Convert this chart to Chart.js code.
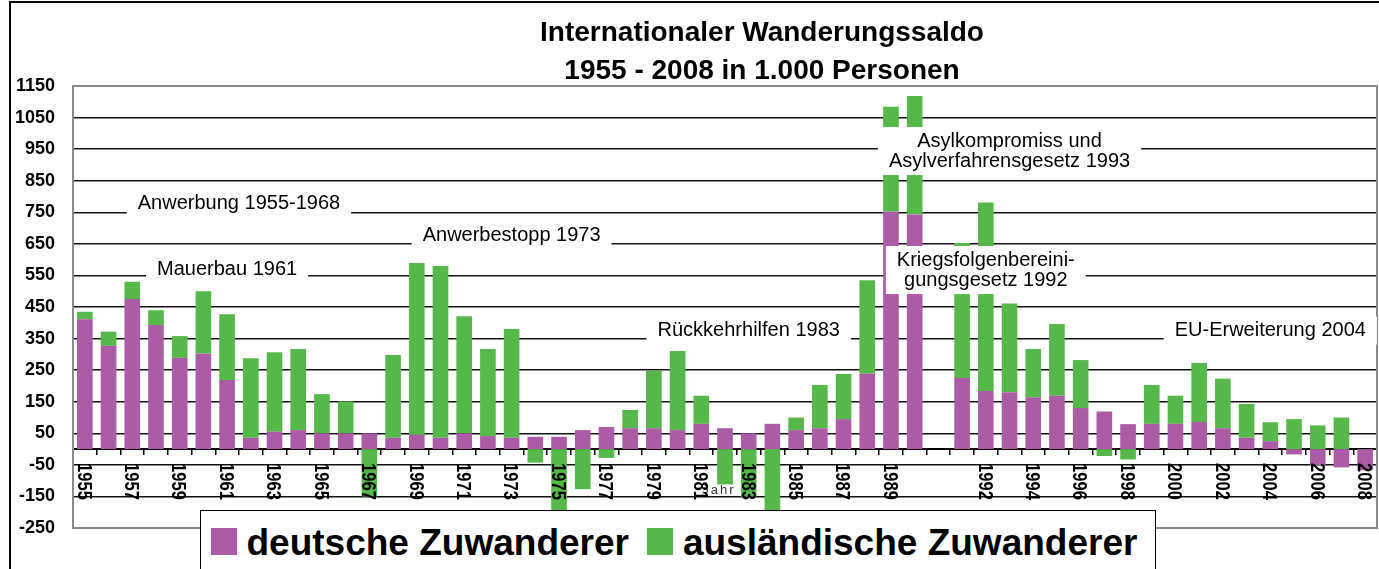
<!DOCTYPE html>
<html>
<head>
<meta charset="utf-8">
<title>Internationaler Wanderungssaldo</title>
<script src="https://cdn.jsdelivr.net/npm/chart.js@4.4.1/dist/chart.umd.min.js"></script>
<style>
  html, body { margin: 0; padding: 0; background: #fff; }
  #wrap { position: relative; width: 1379px; height: 569px; overflow: hidden; }
  #chart { position: absolute; left: 0; top: 0; }
  #legend {
    position: absolute; left: 200px; top: 510px; width: 956px; height: 80px;
    box-sizing: border-box; border: 1.5px solid #000; background: #fff;
    display: flex; align-items: flex-start; padding-left: 9.5px;
    font-family: 'Liberation Sans', Arial, Helvetica, sans-serif;
  }
  #legend .sw { width: 26px; height: 27px; margin-top: 16.5px; margin-right: 10px; flex: none; }
  #legend .lt { font-weight: bold; font-size: 37px; line-height: 37px; margin-top: 13px; white-space: nowrap; }
  #legend .lt.first { margin-right: 18px; }
</style>
</head>
<body>
<div id="wrap">
  <canvas id="chart" width="1379" height="569"></canvas>
  <div id="legend">
    <span class="sw" style="background:#ac5ca5"></span><span class="lt first">deutsche Zuwanderer</span>
    <span class="sw" style="background:#56b84a"></span><span class="lt">ausländische Zuwanderer</span>
  </div>
</div>
<script>
const FONT = "'Liberation Sans', Arial, Helvetica, sans-serif";

// one empty slot between 1990 and 1991, as in the original sheet
const YEARS = [
  '1955', '1956', '1957', '1958', '1959', '1960', '1961', '1962', '1963', '1964',
  '1965', '1966', '1967', '1968', '1969', '1970', '1971', '1972', '1973', '1974',
  '1975', '1976', '1977', '1978', '1979', '1980', '1981', '1982', '1983', '1984',
  '1985', '1986', '1987', '1988', '1989', '1990', '',
  '1991', '1992', '1993', '1994', '1995', '1996', '1997', '1998', '1999', '2000',
  '2001', '2002', '2003', '2004', '2005', '2006', '2007', '2008'
];

// thousands of persons
const DEUTSCHE = [
  411, 327, 475, 393, 289, 303, 219, 36, 55, 60,
  50, 50, 50, 36, 45, 36, 50, 41, 36, 39,
  39, 60, 70, 66, 66, 60, 80, 66, 50, 80,
  60, 66, 95, 239, 752, 743, null,
  225, 184, 180, 164, 169, 130, 119, 79, 80, 80,
  86, 66, 36, 25, -17, -51, -58, -67
];

const AUSLAENDISCHE = [
  24, 45, 55, 47, 69, 197, 208, 252, 252, 257,
  124, 101, -150, 262, 544, 544, 371, 276, 344, -43,
  -200, -127, -28, 58, 182, 251, 89, -112, -151, -215,
  40, 137, 143, 296, 332, 375, null,
  428, 597, 281, 153, 227, 152, -22, -33, 123, 89,
  187, 157, 107, 60, 95, 75, 100, 0
];

const Y_TICKS = [-250, -150, -50, 50, 150, 250, 350, 450, 550, 650, 750, 850, 950, 1050, 1150];

const TITLE_LINES = ['Internationaler Wanderungssaldo', '1955 - 2008 in 1.000 Personen'];

// text boxes, centred on a year (or span of years) and a value
const NOTES = [
  { lines: ['Anwerbung 1955-1968'], from: '1955', to: '1968', value: 779 },
  { lines: ['Mauerbau 1961'], from: '1961', to: '1961', value: 570 },
  { lines: ['Anwerbestopp 1973'], from: '1973', to: '1973', value: 675 },
  { lines: ['Rückkehrhilfen 1983'], from: '1983', to: '1983', value: 377 },
  { lines: ['Asylkompromiss und', 'Asylverfahrensgesetz 1993'], from: '1993', to: '1993', value: 944 },
  { lines: ['Kriegsfolgenbereini-', 'gungsgesetz 1992'], from: '1992', to: '1992', value: 567 },
  { lines: ['EU-Erweiterung 2004'], from: '2004', to: '2004', value: 375 }
];

const decorations = {
  id: 'decorations',
  beforeDraw(chart) {
    const { ctx, width, height } = chart;
    ctx.save();
    ctx.fillStyle = '#fff';
    ctx.fillRect(0, 0, width, height);
    // outer frame of the sheet
    ctx.strokeStyle = '#000';
    ctx.lineWidth = 2;
    ctx.beginPath();
    ctx.moveTo(10, height);
    ctx.lineTo(10, 2);
    ctx.lineTo(width, 2);
    ctx.stroke();
    // title
    ctx.fillStyle = '#000';
    ctx.font = 'bold 28px ' + FONT;
    ctx.textAlign = 'center';
    ctx.textBaseline = 'middle';
    TITLE_LINES.forEach((t, i) => ctx.fillText(t, 762, 33 + i * 38));
    ctx.restore();
  },
  beforeDatasetsDraw(chart) {
    const { ctx, chartArea: a } = chart;
    ctx.save();
    ctx.strokeStyle = '#8a8a8a';
    ctx.lineWidth = 2;
    ctx.strokeRect(a.left, a.top, a.right - a.left, a.bottom - a.top);
    ctx.restore();
  },
  afterDatasetsDraw(chart) {
    const { ctx, chartArea: a, scales: { x, y } } = chart;
    ctx.save();

    // annotation boxes
    ctx.font = '20px ' + FONT;
    ctx.textAlign = 'center';
    ctx.textBaseline = 'middle';
    NOTES.forEach(n => {
      const cx = x.getPixelForValue((YEARS.indexOf(n.from) + YEARS.indexOf(n.to)) / 2);
      const cy = y.getPixelForValue(n.value);
      const w = Math.max(...n.lines.map(l => ctx.measureText(l).width)) + 22;
      const h = n.lines.length * 20 + 8;
      ctx.fillStyle = '#fff';
      ctx.fillRect(cx - w / 2, cy - h / 2, w, h);
      ctx.fillStyle = '#000';
      n.lines.forEach((l, i) => {
        ctx.fillText(l, cx, cy + (i - (n.lines.length - 1) / 2) * 20);
      });
    });

    const zero = y.getPixelForValue(0);

    // axis title, partly hidden under the tick labels
    ctx.font = '13px ' + FONT;
    ctx.fillStyle = '#333';
    ctx.letterSpacing = '2px';
    ctx.fillText('Jahr', (a.left + a.right) / 2 - 6, zero + 41);
    ctx.letterSpacing = '0px';

    // year labels, every second category, reading downwards
    ctx.font = 'bold 20px ' + FONT;
    ctx.fillStyle = '#000';
    ctx.textAlign = 'left';
    ctx.textBaseline = 'alphabetic';
    YEARS.forEach((label, i) => {
      if (i % 2 !== 0 || label === '') return;
      ctx.save();
      ctx.translate(x.getPixelForValue(i), zero + 14);
      ctx.rotate(Math.PI / 2);
      ctx.scale(0.83, 1);
      ctx.fillText(label, 0, 7.2);
      ctx.restore();
    });
    ctx.restore();
  }
};

Chart.defaults.font.family = FONT;

new Chart(document.getElementById('chart'), {
  type: 'bar',
  data: {
    labels: YEARS,
    datasets: [
      { label: 'deutsche Zuwanderer', data: DEUTSCHE, backgroundColor: '#ac5ca5' },
      { label: 'ausländische Zuwanderer', data: AUSLAENDISCHE, backgroundColor: '#56b84a' }
    ]
  },
  options: {
    responsive: false,
    animation: false,
    layout: { padding: { top: 86, left: 0, right: 2, bottom: 41 } },
    datasets: { bar: { categoryPercentage: 1, barPercentage: 0.66 } },
    plugins: {
      legend: { display: false },
      title: { display: false },
      tooltip: { enabled: false }
    },
    scales: {
      x: {
        stacked: true,
        position: { y: 0 },
        offset: true,
        ticks: { display: false, autoSkip: false },
        grid: { offset: true, drawOnChartArea: false, drawTicks: true, tickLength: 5, color: '#000', lineWidth: 1.5 },
        border: { display: true, color: '#000', width: 2 }
      },
      y: {
        stacked: true,
        min: -250,
        max: 1150,
        afterBuildTicks: s => { s.ticks = Y_TICKS.map(v => ({ value: v })); },
        afterFit: s => { s.width = 73; },
        ticks: {
          padding: 18,
          color: '#000',
          font: { size: 18, weight: 'bold' },
          callback: v => String(v)
        },
        grid: {
          drawTicks: false,
          lineWidth: 1.5,
          color: c => (c.tick.value === 1150 || c.tick.value === -250) ? 'rgba(0,0,0,0)' : '#111'
        },
        border: { display: false }
      }
    }
  },
  plugins: [decorations]
});
</script>
</body>
</html>
